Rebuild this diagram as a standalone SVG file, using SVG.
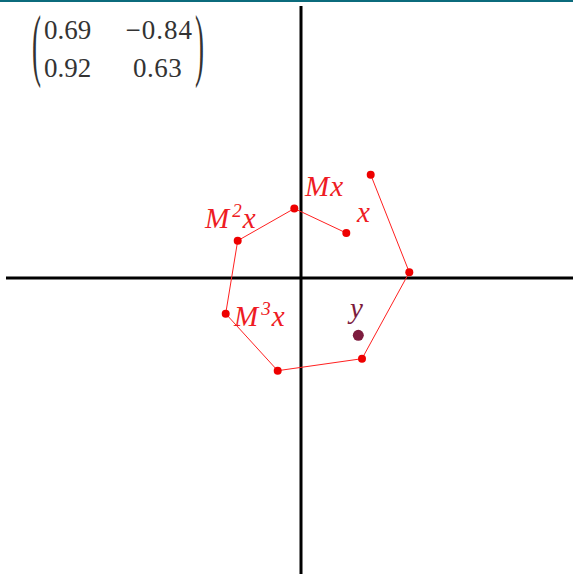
<svg xmlns="http://www.w3.org/2000/svg" width="573" height="574" viewBox="0 0 573 574">
<style>
.mat{font-family:"Liberation Serif","Times New Roman",serif;font-size:27px;fill:#333333}
.lbl{font-family:"Liberation Serif","Times New Roman",serif;font-style:italic;font-size:29px;fill:#ee1c24;letter-spacing:1px}
.sup{font-size:19px}
.pt{fill:#ee0000}
.edge{stroke:#ff2020;stroke-width:1;fill:none}
.axis{stroke:#000000;stroke-width:3}
</style>
<rect x="0" y="0" width="573" height="574" fill="#ffffff"/>
<rect x="0" y="0" width="573" height="2" fill="#0b6b7c"/>
<g id="axes">
<line class="axis" x1="301" y1="6" x2="301" y2="574"/>
<line class="axis" x1="6" y1="278" x2="573" y2="278"/>
</g>
<g id="matrix">
<text class="mat" transform="translate(32,71) scale(1,3)">(</text>
<text class="mat" transform="translate(195,71) scale(1,3)">)</text>
<text class="mat" x="44" y="39">0.69</text>
<text class="mat" x="44" y="77">0.92</text>
<text class="mat" x="193" y="39" text-anchor="end" letter-spacing="1">−0.84</text>
<text class="mat" x="133" y="77" letter-spacing="0.5">0.63</text>
</g>
<g id="connectors">
<polyline class="edge" points="346.3,233 294.3,208.5 237.7,240.7 225.7,313.7 277.7,370.7 362,358.7 409.3,272.3 370.7,174.7"/>
</g>
<g id="x">
<circle class="pt" cx="346.3" cy="233" r="4"/>
<text class="lbl" x="357" y="222">x</text>
</g>
<g id="Mx">
<circle class="pt" cx="294.3" cy="208.5" r="4"/>
<text class="lbl" x="305" y="196">Mx</text>
</g>
<g id="M2x">
<circle class="pt" cx="237.7" cy="240.7" r="4"/>
<text class="lbl" x="205" y="228">M<tspan class="sup" dx="2" dy="-11">2</tspan><tspan dy="11">x</tspan></text>
</g>
<g id="M3x">
<circle class="pt" cx="225.7" cy="313.7" r="4"/>
<text class="lbl" x="234" y="326">M<tspan class="sup" dx="2" dy="-11">3</tspan><tspan dy="11">x</tspan></text>
</g>
<g id="p4">
<circle class="pt" cx="277.7" cy="370.7" r="4"/>
</g>
<g id="p5">
<circle class="pt" cx="362" cy="358.7" r="4"/>
</g>
<g id="p6">
<circle class="pt" cx="409.3" cy="272.3" r="4"/>
</g>
<g id="p7">
<circle class="pt" cx="370.7" cy="174.7" r="4"/>
</g>
<g id="y">
<circle cx="358.3" cy="335.3" r="5.5" fill="#7d1c3e"/>
<text class="lbl" x="350" y="318" style="fill:#7d1c3e">y</text>
</g>
</svg>
